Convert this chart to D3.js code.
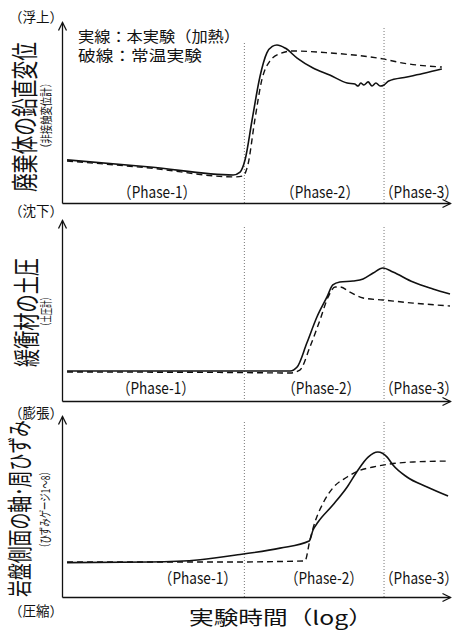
<!DOCTYPE html>
<meta charset="utf-8">
<style>
body { margin: 0; background: #fff; }
text { font-family: "Noto Sans CJK JP", sans-serif; fill: #111; }
.curve { fill: none; stroke: #111; }
.solid { stroke-width: 1.6px; }
.dashed { stroke-width: 1.4px; stroke-dasharray: 6,4; }
.phase-line { stroke: #777; stroke-width: 1px; stroke-dasharray: 1,2; }
</style>
<body>
<script src="https://d3js.org/d3.v7.min.js"></script>
<script>
var width = 462,
    height = 630;

// time axis: arbitrary log-time units 0..100, response axis 0..100
var phaseBounds = [47, 83];
var phaseNames = ["（Phase-1）", "（Phase-2）", "（Phase-3）"];

var legendLines = ["実線：本実験（加熱）", "破線：常温実験"];
var xTitle = "実験時間（log）";

var titles = ["廃棄体の鉛直変位", "緩衝材の土圧", "岩盤側面の軸･周ひずみ"];
var subTitles = ["（非接触変位計）", "（土圧計）", "（ひずみゲージ1～8）"];
var topLabels = ["（浮上）", null, "（膨張）"];
var bottomLabels = ["（沈下）", null, "（圧縮）"];

// panel 1: vertical displacement
var dispSolid = [[1.3,23.8],[22.7,19.9],[44.1,15.5],[45.9,17.1],[47.2,24],[49,46],[51,69.6],[52.8,82.9],[54.2,86.5],[55.4,87.3],[57.5,85.6],[60.6,80.1],[64.7,74.6],[69,70.7],[73.5,66.3],[75.5,65.7],[76.3,64.6],[77,66.3],[77.8,65.2],[78.9,66.9],[79.9,64.6],[80.9,66.3],[82,64.6],[83,65.2],[84.2,67.4],[88.9,69.6],[93.6,71.8],[97.9,74]];
var dispDashed = [[1.3,23.2],[22.7,19.3],[44.6,14.4],[46.6,14.9],[47.9,21],[49.7,45.9],[51.5,68],[53.6,78.5],[56.2,82.5],[59.5,84],[69,82.9],[79.4,80.7],[82.7,79.6],[87.9,77.3],[97.9,75.1]];

// panel 2: earth pressure of buffer
var presSolid = [[1.3,16.6],[40,16.6],[58.8,16.6],[60.6,18.8],[63.1,32],[65.7,46.4],[68.3,57.5],[69.8,64.1],[71.6,65.7],[75,66.3],[77.6,67.4],[80.2,70.7],[82.7,73.5],[85.3,71.3],[90.5,65.7],[95.6,61.9],[100,59.1]];
var presDashed = [[1.3,16],[40,15.8],[58.8,15.5],[61.3,17.1],[63.9,29.8],[66.5,44.8],[68.6,57.5],[70.4,63],[71.6,63],[74.2,60.2],[77.6,56.9],[82.7,55.8],[90.5,54.1],[100,52.5]];

// panel 3: rock strain
var strainSolid = [[1.3,19],[22.7,19.3],[35.6,20.6],[45.9,23.5],[56.2,27],[63.7,30.9],[64.7,37],[66,41.4],[69.8,50.8],[73.5,60.8],[76.3,70.2],[78.9,77.3],[81.4,80.1],[83.8,77.3],[85.3,72.9],[88.9,66.3],[94.1,60.8],[99.5,55.8]];
var strainDashed = [[1.3,19.3],[40,19.3],[62.6,19.9],[63.9,31.5],[65.2,41.4],[67.3,51.9],[69.8,60.2],[73.5,66.3],[76.3,69.6],[80.2,71.8],[84.5,73.5],[90.5,74.6],[99.2,75.1]];

var series = [[dispSolid, dispDashed], [presSolid, presDashed], [strainSolid, strainDashed]];

// layout of the three panels
var panels = [
  { top: 22, bottom: 203, lineTop: [43, 28], phaseX: [24.5, 66.5, 92], phaseY: 191,
    titleX: 23, titleY: 117, titleSize: 27, titleLen: 150, subX: 46, subY: 115.5, subLen: 75, cornerY: [16, 210] },
  { top: 220, bottom: 401, lineTop: [227, 227], phaseX: [24.2, 66.8, 92], phaseY: 387,
    titleX: 25.5, titleY: 312.5, titleSize: 27, titleLen: 109, subX: 46, subY: 311.5, subLen: 37, cornerY: [null, null] },
  { top: 416, bottom: 597, lineTop: [422, 422], phaseX: [35, 67.5, 92], phaseY: 577,
    titleX: 18, titleY: 508.5, titleSize: 25, titleLen: 177, subX: 44.5, subY: 509.5, subLen: 85, cornerY: [412, 610] }
];

var svg = d3.select("body").append("svg")
    .attr("width", width)
    .attr("height", height);

svg.append("defs").append("marker")
    .attr("id", "arrow")
    .attr("markerUnits", "userSpaceOnUse")
    .attr("markerWidth", 20).attr("markerHeight", 20)
    .attr("refX", 10).attr("refY", 10)
    .attr("viewBox", "0 0 20 20")
    .attr("orient", "auto")
  .append("path")
    .attr("d", "M2,6 L10,10 L2,14")
    .attr("fill", "none")
    .attr("stroke", "#111")
    .attr("stroke-width", 1.3);

// squeeze a text along its own direction to a given length
function fitText(sel, tx, ty, len, rot) {
  sel.attr("transform", function() {
    var w = this.getComputedTextLength();
    return "translate(" + tx + "," + ty + ")" + (rot ? " rotate(" + rot + ")" : "") +
      " scale(" + (len / w) + ",1)";
  });
}

var x = d3.scaleLinear().domain([0, 100]).range([62, 450]);

var line = d3.line()
    .x(d => x(d[0]))
    .curve(d3.curveMonotoneX);

panels.forEach(function(p, i) {
  var y = d3.scaleLinear().domain([0, 100]).range([p.bottom, p.top]);
  var g = svg.append("g");

  g.selectAll(".phase-line")
    .data(phaseBounds)
    .enter().append("line")
    .attr("class", "phase-line")
    .attr("x1", d => x(d)).attr("x2", d => x(d))
    .attr("y1", (d, j) => p.lineTop[j])
    .attr("y2", p.bottom);

  var xAxis = g.append("g")
      .attr("transform", "translate(0," + p.bottom + ")")
      .call(d3.axisBottom(x).tickValues([]).tickSizeOuter(0));
  var yAxis = g.append("g")
      .attr("transform", "translate(62,0)")
      .call(d3.axisLeft(y).tickValues([]).tickSizeOuter(0));
  [xAxis, yAxis].forEach(function(a) {
    a.select(".domain")
      .attr("stroke", "#111")
      .attr("stroke-width", 1.3)
      .attr("marker-end", "url(#arrow)");
  });

  line.y(d => y(d[1]));
  g.append("path")
    .attr("class", "curve dashed")
    .attr("d", line(series[i][1]));
  g.append("path")
    .attr("class", "curve solid")
    .attr("d", line(series[i][0]));

  phaseNames.forEach(function(name, j) {
    g.append("text")
      .attr("class", "phase")
      .attr("text-anchor", "middle")
      .attr("dominant-baseline", "central")
      .attr("font-size", 16)
      .text(name)
      .call(fitText, x(p.phaseX[j]), p.phaseY, 78);
  });

  g.append("text")
    .attr("text-anchor", "middle")
    .attr("dominant-baseline", "central")
    .attr("font-size", p.titleSize)
    .text(titles[i])
    .call(fitText, p.titleX, p.titleY, p.titleLen, -90);

  g.append("text")
    .attr("text-anchor", "middle")
    .attr("dominant-baseline", "central")
    .attr("font-size", 12)
    .text(subTitles[i])
    .call(fitText, p.subX, p.subY, p.subLen, -90);

  [topLabels[i], bottomLabels[i]].forEach(function(t, k) {
    if (!t) return;
    g.append("text")
      .attr("x", 9)
      .attr("y", p.cornerY[k])
      .attr("dominant-baseline", "central")
      .attr("font-size", 13.5)
      .text(t);
  });
});

// legend
legendLines.forEach(function(t, i) {
  svg.append("text")
    .attr("class", "legend")
    .attr("dominant-baseline", "central")
    .attr("font-size", 15)
    .text(t)
    .call(fitText, 78, 35 + i * 20, i === 0 ? 162 : 124);
});

// time axis title
svg.append("text")
  .attr("dominant-baseline", "central")
  .attr("font-size", 19)
  .text(xTitle)
  .call(fitText, 189, 616, 184);
</script>
</body>
